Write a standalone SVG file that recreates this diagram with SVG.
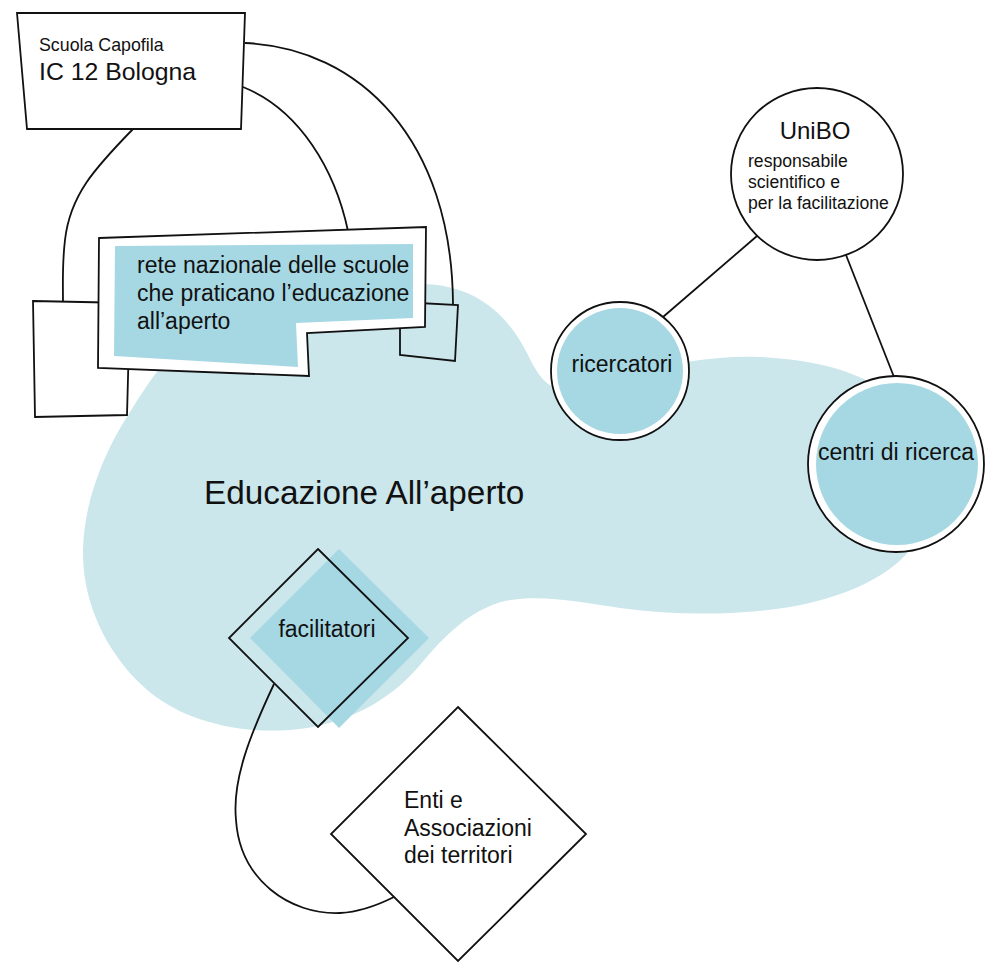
<svg xmlns="http://www.w3.org/2000/svg" width="1000" height="972" viewBox="0 0 1000 972">
  <style>
    .ln { fill: none; stroke: #111; stroke-width: 1.8; }
    .box { fill: #fff; stroke: #111; stroke-width: 1.8; stroke-linejoin: miter; }
    .hi { fill: #a6d8e4; }
    .t { font-family: "Liberation Sans", Arial, sans-serif; fill: #111; }
    .m { font-size: 23px; }
    .s { font-size: 17.6px; }
  </style>
  <rect width="1000" height="972" fill="#fff"/>
  <g id="educazione-allaperto">
    <path fill="#cbe7ec" d="M 420,284 C 478,284 510,318 528,355 C 540,380 550,392 575,390 L 640,372 C 680,362 720,355 760,357 C 810,360 845,368 875,385 C 930,415 940,510 910,550 C 885,580 840,598 790,607 C 740,615 680,616 620,608 C 580,602 540,594 505,601 C 470,610 445,635 420,665 C 395,695 355,722 300,729 C 240,736 180,720 145,688 C 105,652 82,600 83,550 C 84,500 105,450 130,412 C 150,380 170,350 200,325 C 250,295 340,284 420,284 Z"/>
    <text class="t" x="204" y="504" font-size="33.3">Educazione All’aperto</text>
  </g>
  <g id="connectors">
    <path class="ln" d="M 133,129 C 95,168 70,195 65,240 C 62,265 63,285 63,302"/>
    <path class="ln" d="M 243,87 C 300,110 335,170 348,231"/>
    <path class="ln" d="M 245,43 C 360,48 452,140 453,304"/>
    <path class="ln" d="M 757,236 L 663,317"/>
    <path class="ln" d="M 846,255 L 894,377"/>
    <path class="ln" d="M 274,684 C 250,735 232,780 236,820 C 240,880 290,915 340,913 C 360,912 378,905 394,897"/>
  </g>
  <g id="scuola-capofila">
    <polygon class="box" points="17,13 245,13 241,129 27,129"/>
    <text class="t" x="39" y="51" font-size="17.8">Scuola Capofila</text>
    <text class="t" x="39" y="80" font-size="24.8">IC 12 Bologna</text>
  </g>
  <g id="scuola-sinistra">
    <polygon class="box" points="33,301 130,303 127,415 35,417"/>
  </g>
  <g id="scuola-destra">
    <polygon class="ln" points="400,302 458,305 455,361 400,355"/>
  </g>
  <g id="rete-nazionale">
    <polygon class="box" points="99,238 426,227 425,327 307,333 309,376 98,368"/>
    <polygon class="hi" points="115,246 413,244 413,318 296,323 298,367 114,356"/>
    <text class="t m" x="137" y="273">rete nazionale delle scuole</text>
    <text class="t m" x="137" y="301">che praticano l’educazione</text>
    <text class="t m" x="137" y="329">all’aperto</text>
  </g>
  <g id="unibo">
    <circle class="box" cx="817" cy="174" r="86"/>
    <text class="t" x="815" y="139" font-size="24" text-anchor="middle">UniBO</text>
    <text class="t s" x="748" y="167">responsabile</text>
    <text class="t s" x="748" y="188">scientifico e</text>
    <text class="t s" x="748" y="209">per la facilitazione</text>
  </g>
  <g id="ricercatori">
    <circle class="box" cx="620" cy="371" r="69"/>
    <circle class="hi" cx="620" cy="371" r="63"/>
    <text class="t m" x="622" y="372" text-anchor="middle">ricercatori</text>
  </g>
  <g id="centri-di-ricerca">
    <circle class="box" cx="896" cy="464" r="88"/>
    <circle class="hi" cx="897" cy="464" r="81"/>
    <text class="t m" x="896" y="460" text-anchor="middle">centri di ricerca</text>
  </g>
  <g id="facilitatori">
    <polygon class="hi" points="339,549 429,638 339,728 250,638"/>
    <polygon class="ln" points="318,549 408,638 318,727 229,638"/>
    <text class="t m" x="327" y="637" text-anchor="middle">facilitatori</text>
  </g>
  <g id="enti-associazioni">
    <polygon class="box" points="458,707 586,834 458,961 331,834"/>
    <text class="t m" x="404" y="808">Enti e</text>
    <text class="t m" x="404" y="836">Associazioni</text>
    <text class="t m" x="404" y="863">dei territori</text>
  </g>
</svg>
